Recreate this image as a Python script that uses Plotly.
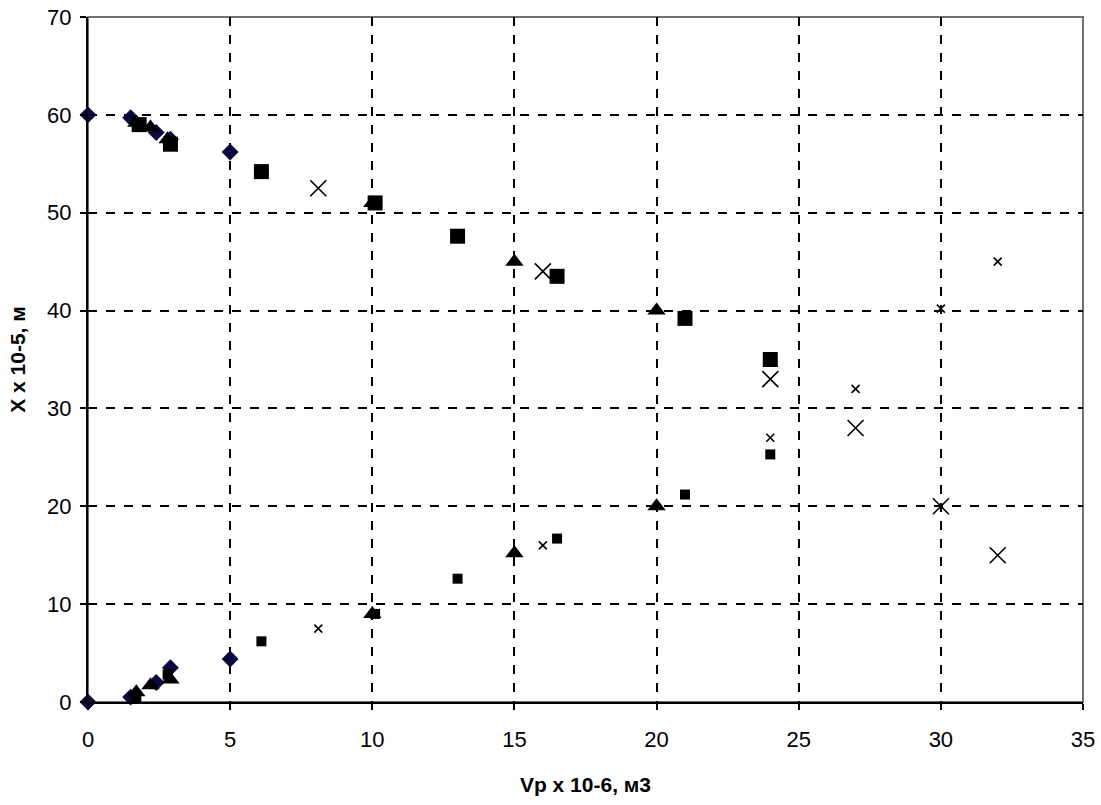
import plotly.graph_objects as go

# Upper (decreasing) branches
up_diamond_x = [0, 1.5, 2.4, 2.9, 5.0]
up_diamond_y = [60, 59.7, 58.2, 57.5, 56.2]
up_square_x = [1.8, 2.9, 6.1, 10.1, 13.0, 16.5, 21.0, 24.0]
up_square_y = [59.0, 57.0, 54.2, 51.0, 47.6, 43.5, 39.2, 35.0]
up_triangle_x = [1.7, 2.2, 2.8, 10.0, 15.0, 20.0]
up_triangle_y = [59.2, 58.7, 57.5, 51.0, 45.0, 40.0]
up_cross_x = [8.1, 16.0, 24.0, 27.0, 30.0, 32.0]
up_cross_y = [52.5, 44.0, 33.0, 28.0, 20.0, 15.0]

# Lower (increasing) branches
lo_diamond_x = [0, 1.5, 2.4, 2.9, 5.0]
lo_diamond_y = [0, 0.5, 2.0, 3.5, 4.4]
lo_square_x = [1.7, 2.8, 6.1, 10.1, 13.0, 16.5, 21.0, 24.0]
lo_square_y = [0.5, 2.8, 6.2, 9.0, 12.6, 16.7, 21.2, 25.3]
lo_triangle_x = [1.7, 2.2, 2.9, 10.0, 15.0, 20.0]
lo_triangle_y = [1.0, 1.7, 2.3, 9.0, 15.2, 20.0]
lo_cross_x = [8.1, 16.0, 24.0, 27.0, 30.0, 32.0]
lo_cross_y = [7.5, 16.0, 27.0, 32.0, 40.2, 45.0]

x_ticks = [0, 5, 10, 15, 20, 25, 30, 35]
y_ticks = [0, 10, 20, 30, 40, 50, 60, 70]

fig = go.Figure()

def add(x, y, symbol, size, color="black", lw=0):
    fig.add_trace(go.Scatter(
        x=x, y=y, mode="markers", cliponaxis=False,
        marker=dict(symbol=symbol, size=size, color=color,
                    line=dict(width=lw, color=color)),
        showlegend=False))

add(up_diamond_x, up_diamond_y, "diamond", 13, color="#0a0a3c")
add(lo_diamond_x, lo_diamond_y, "diamond", 13, color="#0a0a3c")
add(up_square_x, up_square_y, "square", 15)
add(lo_square_x, lo_square_y, "square", 10)
add(up_triangle_x, up_triangle_y, "triangle-up", 16)
add(lo_triangle_x, lo_triangle_y, "triangle-up", 16)
add(up_cross_x, up_cross_y, "x-thin", 16, lw=1.6)
add(lo_cross_x, lo_cross_y, "x-thin", 8, lw=1.6)

FAM = "Liberation Sans, Arial, sans-serif"
tick_font = dict(family=FAM, size=22, color="black")
title_font = dict(family=FAM, size=21, color="black")

fig.update_layout(
    width=1101, height=805,
    margin=dict(l=88, r=18, t=17, b=103),
    paper_bgcolor="white", plot_bgcolor="white",
    shapes=[dict(type="rect", xref="paper", yref="paper", x0=0, y0=0, x1=1, y1=1,
                 line=dict(color="#707070", width=2), layer="below")],
)
fig.update_xaxes(
    range=[0, 35], tickvals=x_ticks, ticktext=[str(v) for v in x_ticks],
    showgrid=True, gridcolor="black", griddash="dash", gridwidth=1.5,
    showline=True, linecolor="black", linewidth=2,
    ticks="outside", ticklen=6, tickcolor="black", tickwidth=1.5,
    tickfont=tick_font, zeroline=False, automargin=False, ticklabelstandoff=11,
    title=dict(text="<b>Vp x 10-6, м3</b>", font=title_font, standoff=26),
)
fig.update_yaxes(
    range=[0, 70], tickvals=y_ticks, ticktext=[str(v) for v in y_ticks],
    showgrid=True, gridcolor="black", griddash="dash", gridwidth=1.5,
    showline=True, linecolor="black", linewidth=2,
    ticks="outside", ticklen=6, tickcolor="black", tickwidth=1.5,
    tickfont=tick_font, zeroline=False, automargin=False, ticklabelstandoff=4,
    title=dict(text="<b>X x 10-5, м</b>", font=title_font, standoff=16),
)

fig.write_html("out.html", config={"displayModeBar": False},
               post_script="document.body.style.margin='0';")
